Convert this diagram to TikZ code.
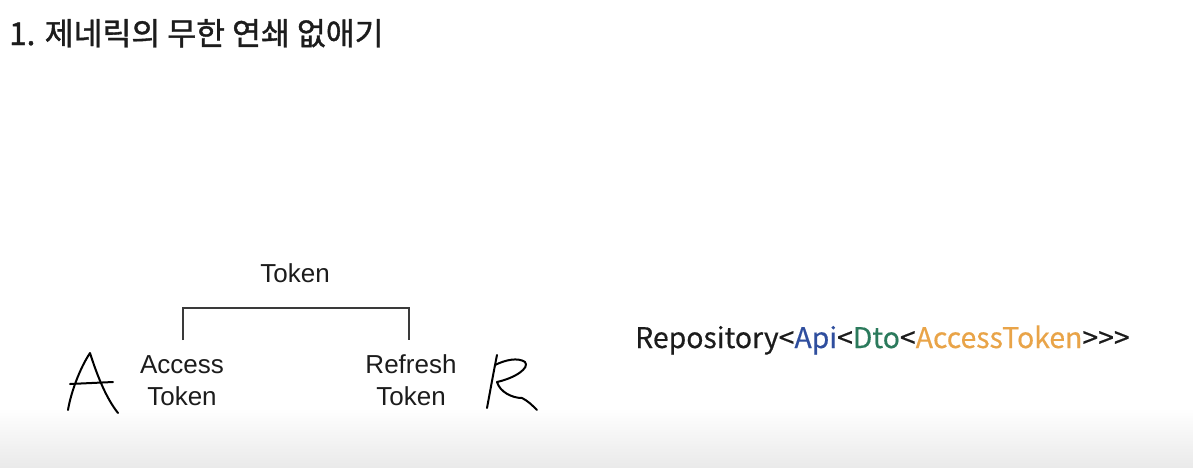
\documentclass[tikz,border=0pt]{standalone}
\usepackage{fontspec}
\setmainfont{Liberation Sans}
\newfontfamily\krfont{Noto Sans CJK KR}[FakeBold=0.4]
\newfontfamily\krtitle{Noto Sans CJK KR}[FakeBold=1.2]
\definecolor{ink}{HTML}{1C1C1C}
\definecolor{linegray}{HTML}{3A3A3A}
\definecolor{apiblue}{HTML}{2F4E9E}
\definecolor{dtogreen}{HTML}{2B7A5C}
\definecolor{tokorange}{HTML}{E9A448}
\definecolor{floorgray}{HTML}{EAEAEA}
\begin{document}
\begin{tikzpicture}[x=1pt,y=-1pt,
  label/.style={inner sep=0pt,text=ink,font=\fontsize{26}{32}\selectfont,align=center},
  hand/.style={draw=black,line width=2pt,line cap=round,line join=round},
  bracket/.style={draw=linegray,line width=1.8pt}]
\useasboundingbox (0,0) rectangle (1193,467);
\fill[white] (0,0) rectangle (1193,467);
\shade[top color=white,bottom color=floorgray] (0,408) rectangle (1193,467);

% heading
\node[anchor=base west,inner sep=0pt,text=ink,font=\krtitle\fontsize{31.4}{36}\selectfont] (title) at (9,45) {1. 제네릭의 무한 연쇄 없애기};

% token hierarchy (base anchor sits on the last line)
\node[label,anchor=base] (token) at (295,282) {Token};
\node[label,anchor=base] (access) at (182,405) {Access\\Token};
\node[label,anchor=base] (refresh) at (411,405) {Refresh\\Token};
\coordinate (accTop) at (183,340);
\coordinate (refTop) at (409,340);
\draw[bracket] (accTop) -- (183,308) -- (409,308) -- (refTop);

% hand-drawn A
\draw[hand] (68,410) .. controls (71,392) and (80,368) .. (90,353)
            .. controls (97,375) and (106,398) .. (118,413);
\draw[hand] (70,384) -- (113,382);

% hand-drawn R
\draw[hand] (497,355) .. controls (493,375) and (490,392) .. (487,408);
\draw[hand] (495,365) .. controls (505,360) and (518,357) .. (525,362)
            .. controls (530,368) and (515,378) .. (497,382)
            .. controls (500,392) and (512,398) .. (522,398)
            .. controls (528,401) and (532,405) .. (537,410);

% nested generic type
\node[anchor=base west,inner sep=0pt,text=ink,font=\krfont\fontsize{28.4}{34}\selectfont] (repo) at (635,348)
  {Repository<\textcolor{apiblue}{Api}<\textcolor{dtogreen}{Dto}<\textcolor{tokorange}{AccessToken}>{}>{}>};
\end{tikzpicture}
\end{document}
